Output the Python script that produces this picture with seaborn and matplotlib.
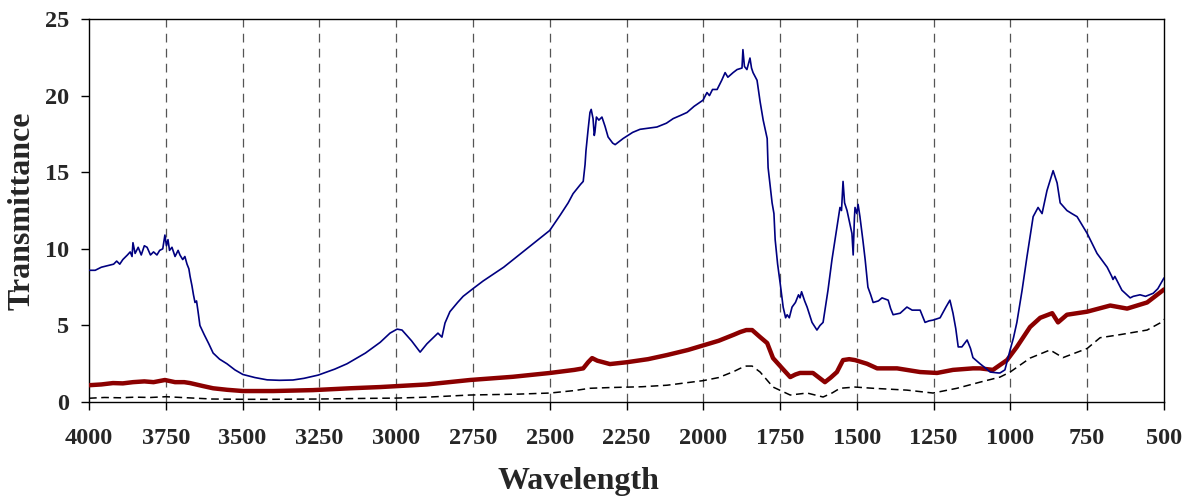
import matplotlib
matplotlib.use("Agg")
import matplotlib.pyplot as plt
import seaborn as sns
import pandas as pd

# ---- data ----
blue_w = [4000, 3980, 3960, 3940, 3920, 3910, 3900, 3890, 3875, 3866, 3860, 3857, 3850, 3840, 3830, 3820,
          3811, 3800, 3790, 3779, 3770, 3760, 3753, 3748, 3743, 3738, 3730, 3720, 3710, 3704, 3695, 3688,
          3681, 3675, 3671, 3665, 3660, 3655, 3650, 3645, 3639, 3625, 3610, 3596, 3575, 3551, 3525, 3499,
          3460, 3420, 3380, 3336, 3300, 3254, 3200, 3160, 3100, 3052, 3020, 2997, 2981, 2950, 2922, 2900,
          2864, 2851, 2841, 2825, 2800, 2782, 2750, 2717, 2650, 2600, 2550, 2500, 2466, 2440, 2424, 2400,
          2391, 2385, 2382, 2375, 2369, 2365, 2359, 2355, 2353, 2348, 2340, 2330, 2320, 2310, 2295, 2287,
          2261, 2230, 2206, 2151, 2120, 2098, 2075, 2053, 2030, 2001, 1988, 1980, 1970, 1955, 1940, 1929,
          1920, 1903, 1890, 1874, 1871, 1866, 1858, 1848, 1843, 1838, 1825, 1815, 1805, 1792, 1789, 1776,
          1770, 1766, 1758, 1750, 1740, 1732, 1727, 1720, 1711, 1700, 1690, 1685, 1680, 1670, 1662, 1646,
          1630, 1620, 1610, 1600, 1594, 1581, 1565, 1555, 1550, 1545, 1540, 1532, 1516, 1512, 1508, 1506,
          1500, 1496, 1490, 1480, 1473, 1464, 1455, 1447, 1430, 1418, 1398, 1390, 1382, 1359, 1337, 1320,
          1294, 1278, 1265, 1252, 1229, 1210, 1197, 1187, 1178, 1170, 1158, 1141, 1130, 1122, 1099, 1080,
          1066, 1040, 1034, 1018, 1001, 990, 979, 962, 946, 926, 910, 897, 881, 861, 848, 838,
          825, 816, 800, 783, 750, 718, 685, 670, 666, 660, 637, 610, 600, 578, 560, 535,
          520, 503, 500]
blue_t = [8.6, 8.6, 8.8, 8.9, 9.0, 9.2, 9.0, 9.3, 9.6, 9.8, 9.5, 10.4, 9.7, 10.1, 9.6, 10.2,
          10.1, 9.6, 9.8, 9.6, 9.9, 10.0, 10.9, 10.2, 10.6, 9.9, 10.1, 9.5, 9.9, 9.6, 9.3, 9.5,
          9.0, 8.7, 8.2, 7.6, 7.0, 6.5, 6.6, 5.9, 5.0, 4.4, 3.8, 3.2, 2.8, 2.5, 2.1, 1.8,
          1.6, 1.45, 1.42, 1.44, 1.55, 1.76, 2.15, 2.5, 3.2, 3.9, 4.5, 4.76, 4.7, 4.0, 3.26, 3.8,
          4.5, 4.24, 5.16, 5.9, 6.5, 6.9, 7.4, 7.9, 8.8, 9.6, 10.4, 11.2, 12.2, 13.0, 13.6, 14.2,
          14.4, 15.5, 16.4, 17.8, 18.9, 19.1, 18.5, 17.4, 17.6, 18.6, 18.4, 18.6, 18.0, 17.3, 16.9, 16.8,
          17.2, 17.6, 17.8, 17.95, 18.2, 18.5, 18.7, 18.9, 19.3, 19.7, 20.2, 20.0, 20.4, 20.4, 21.0, 21.5,
          21.2, 21.5, 21.7, 21.8, 23.0, 21.9, 21.7, 22.45, 21.8, 21.5, 21.0, 19.6, 18.4, 17.2, 15.3, 13.0,
          12.3, 10.6, 9.0, 7.8, 6.2, 5.5, 5.7, 5.5, 6.2, 6.5, 7.0, 6.8, 7.2, 6.6, 6.2, 5.2,
          4.7, 5.0, 5.2, 6.5, 7.3, 9.3, 11.4, 12.7, 12.5, 14.4, 13.0, 12.5, 11.0, 9.6, 12.0, 12.7,
          12.3, 12.9, 12.1, 10.5, 9.3, 7.5, 7.0, 6.5, 6.6, 6.8, 6.65, 6.1, 5.7, 5.8, 6.2, 6.0,
          6.0, 5.2, 5.3, 5.35, 5.5, 6.2, 6.65, 5.8, 4.8, 3.6, 3.6, 4.05, 3.5, 2.9, 2.5, 2.2,
          1.96, 1.9, 1.9, 2.1, 3.4, 4.2, 5.2, 7.3, 9.5, 12.1, 12.7, 12.3, 13.8, 15.1, 14.3, 13.0,
          12.7, 12.5, 12.3, 12.1, 11.0, 9.7, 8.8, 8.2, 8.0, 8.2, 7.3, 6.8, 6.9, 7.0, 6.9, 7.1,
          7.4, 8.0, 8.1]

red_w = [4000, 3960, 3922, 3890, 3857, 3820, 3790, 3753, 3720, 3690, 3671, 3630, 3596, 3550, 3499, 3400,
         3271, 3150, 3052, 2900, 2760, 2620, 2499, 2420, 2391, 2375, 2362, 2345, 2326, 2304, 2249, 2180,
         2118, 2050, 2000, 1950, 1900, 1880, 1860, 1841, 1815, 1792, 1773, 1743, 1717, 1700, 1685, 1643,
         1604, 1585, 1565, 1545, 1525, 1506, 1467, 1434, 1369, 1294, 1239, 1187, 1122, 1099, 1057, 1011,
         979, 936, 903, 864, 845, 816, 750, 675, 620, 555, 503, 500]
red_t = [1.1, 1.15, 1.24, 1.22, 1.3, 1.35, 1.3, 1.44, 1.3, 1.3, 1.24, 1.05, 0.9, 0.8, 0.72, 0.72,
         0.78, 0.9, 0.98, 1.15, 1.44, 1.65, 1.9, 2.1, 2.2, 2.6, 2.87, 2.7, 2.6, 2.48, 2.6, 2.8,
         3.07, 3.4, 3.7, 4.0, 4.4, 4.57, 4.7, 4.7, 4.24, 3.85, 2.87, 2.2, 1.63, 1.8, 1.9, 1.9,
         1.3, 1.6, 1.96, 2.74, 2.8, 2.74, 2.5, 2.2, 2.2, 1.96, 1.9, 2.1, 2.2, 2.2, 2.1, 2.74,
         3.6, 4.9, 5.5, 5.8, 5.2, 5.7, 5.9, 6.3, 6.1, 6.5, 7.3, 7.35]

black_w = [4000, 3950, 3900, 3850, 3800, 3750, 3700, 3650, 3600, 3500, 3400, 3250, 3100, 3000, 2900, 2760,
           2600, 2499, 2420, 2369, 2300, 2200, 2118, 2000, 1950, 1900, 1880, 1860, 1841, 1815, 1773, 1717,
           1662, 1610, 1580, 1555, 1506, 1447, 1337, 1252, 1174, 1099, 1034, 1001, 936, 871, 829, 750,
           708, 643, 555, 513, 500]
black_t = [0.25, 0.3, 0.28, 0.32, 0.3, 0.35, 0.3, 0.25, 0.2, 0.18, 0.18, 0.2, 0.24, 0.26, 0.32, 0.46,
           0.52, 0.59, 0.75, 0.9, 0.95, 1.0, 1.1, 1.4, 1.6, 2.0, 2.2, 2.35, 2.35, 1.96, 0.98, 0.46,
           0.59, 0.33, 0.6, 0.9, 0.98, 0.9, 0.78, 0.59, 0.9, 1.3, 1.63, 1.96, 2.87, 3.4, 2.9, 3.5,
           4.2, 4.4, 4.7, 5.16, 5.4]

x_ticks = [4000, 3750, 3500, 3250, 3000, 2750, 2500, 2250, 2000, 1750, 1500, 1250, 1000, 750, 500]
y_ticks = [0, 5, 10, 15, 20, 25]

blue_df = pd.DataFrame({"Wavelength": blue_w, "Transmittance": blue_t})
red_df = pd.DataFrame({"Wavelength": red_w, "Transmittance": red_t})
black_df = pd.DataFrame({"Wavelength": black_w, "Transmittance": black_t})

sns.set_theme(style="ticks")
plt.rcParams["font.family"] = ["Liberation Serif", "DejaVu Serif"]
plt.rcParams["font.weight"] = "bold"

fig = plt.figure(figsize=(11.92, 4.97), dpi=100)
ax = fig.add_axes([0.0747, 0.191, 0.9018, 0.7708])

for xv in x_ticks[1:-1]:
    ax.axvline(xv, color="#555555", lw=0.9, ls=(0, (7, 5)), zorder=0)

sns.lineplot(data=black_df, x="Wavelength", y="Transmittance", ax=ax, color="black",
             lw=1.1, linestyle=(0, (5, 3)), sort=False, zorder=2)
sns.lineplot(data=red_df, x="Wavelength", y="Transmittance", ax=ax, color="#8B0000",
             lw=3.2, sort=False, zorder=3)
sns.lineplot(data=blue_df, x="Wavelength", y="Transmittance", ax=ax, color="#000080",
             lw=1.2, sort=False, zorder=4)

ax.set_xlim(4000, 500)
ax.set_ylim(0, 25)
ax.set_xticks(x_ticks)
ax.set_yticks(y_ticks)
ax.set_xticklabels([str(v) for v in x_ticks], fontsize=17.5, fontweight="bold")
ax.set_yticklabels([str(v) for v in y_ticks], fontsize=17.5, fontweight="bold")
ax.tick_params(axis="both", direction="out", length=5.5, width=1, color="black")
ax.tick_params(axis="x", pad=13)
ax.tick_params(axis="y", pad=9)
for s in ax.spines.values():
    s.set_color("black")
    s.set_linewidth(1.0)
    s.set_visible(True)
ax.set_xlabel("Wavelength", fontsize=23, fontweight="bold")
ax.set_ylabel("Transmittance", fontsize=23, fontweight="bold", labelpad=6)
ax.xaxis.set_label_coords(0.455, -0.17)
ax.xaxis.label.set_va("top")
ax.grid(False)

fig.savefig("out.png", dpi=100)
